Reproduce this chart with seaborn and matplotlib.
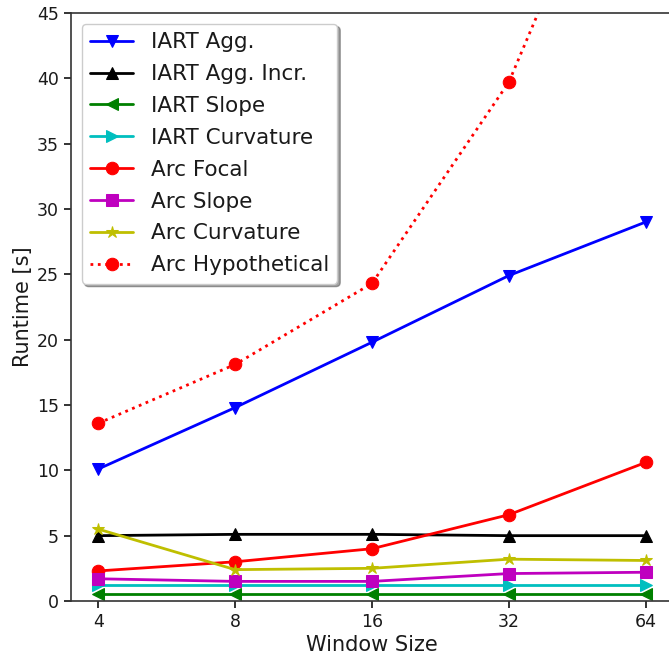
import numpy as np
import pandas as pd
import matplotlib
matplotlib.use("Agg")
import matplotlib.pyplot as plt
import seaborn as sns
from matplotlib.ticker import FixedLocator, FixedFormatter, NullLocator

window_sizes = [4, 8, 16, 32, 64]

iart_agg = [10.1, 14.8, 19.8, 24.9, 29.0]
iart_agg_incr = [5.0, 5.1, 5.1, 5.0, 5.0]
iart_slope = [0.5, 0.5, 0.5, 0.5, 0.5]
iart_curvature = [1.2, 1.2, 1.2, 1.2, 1.2]
arc_focal = [2.3, 3.0, 4.0, 6.6, 10.6]
arc_slope = [1.7, 1.5, 1.5, 2.1, 2.2]
arc_curvature = [5.5, 2.4, 2.5, 3.2, 3.1]
arc_hypothetical = [13.6, 18.1, 24.3, 39.7, 64.4]

# classic matplotlib single-letter colours
series = [
    ("IART Agg.", iart_agg, "#0000ff", "v", "-"),
    ("IART Agg. Incr.", iart_agg_incr, "#000000", "^", "-"),
    ("IART Slope", iart_slope, "#008000", "<", "-"),
    ("IART Curvature", iart_curvature, "#00bfbf", ">", "-"),
    ("Arc Focal", arc_focal, "#ff0000", "o", "-"),
    ("Arc Slope", arc_slope, "#bf00bf", "s", "-"),
    ("Arc Curvature", arc_curvature, "#bfbf00", "*", "-"),
    ("Arc Hypothetical", arc_hypothetical, "#ff0000", "o", ":"),
]

sns.set_theme(style="ticks", color_codes=False)
plt.rcParams["font.family"] = ["DejaVu Sans"]

fig = plt.figure(figsize=(6.69, 6.60), dpi=100)
ax = fig.add_axes([0.106, 0.0894, 0.90, 0.891])

for name, vals, color, marker, ls in series:
    df = pd.DataFrame({"Window Size": window_sizes, "Runtime": vals})
    sns.lineplot(data=df, x="Window Size", y="Runtime", ax=ax, label=name,
                 color=color, marker=marker, linestyle=ls, linewidth=2,
                 markersize=9, markeredgecolor=color, estimator=None)

ax.set_xscale("log", base=2)
ax.xaxis.set_major_locator(FixedLocator(window_sizes))
ax.xaxis.set_major_formatter(FixedFormatter([str(w) for w in window_sizes]))
ax.xaxis.set_minor_locator(NullLocator())
ax.set_xlim(4 / 2 ** 0.2, 64 * 2 ** 0.2)
ax.set_ylim(0, 45)

ax.set_xlabel("Window Size", fontsize=15, color="#1a1a1a", labelpad=3)
ax.set_ylabel("Runtime [s]", fontsize=15, color="#1a1a1a", labelpad=3)
ax.tick_params(labelsize=12.5, colors="#1a1a1a", length=5)
for s in ax.spines.values():
    s.set_visible(True)
    s.set_color("#333333")
    s.set_linewidth(1.2)

leg = ax.legend(loc="upper left", fontsize=15.5, shadow=True, fancybox=True,
                framealpha=1, edgecolor="#cccccc", labelspacing=0.55)
for t in leg.get_texts():
    t.set_color("#1a1a1a")

fig.savefig("out.png", dpi=100)
